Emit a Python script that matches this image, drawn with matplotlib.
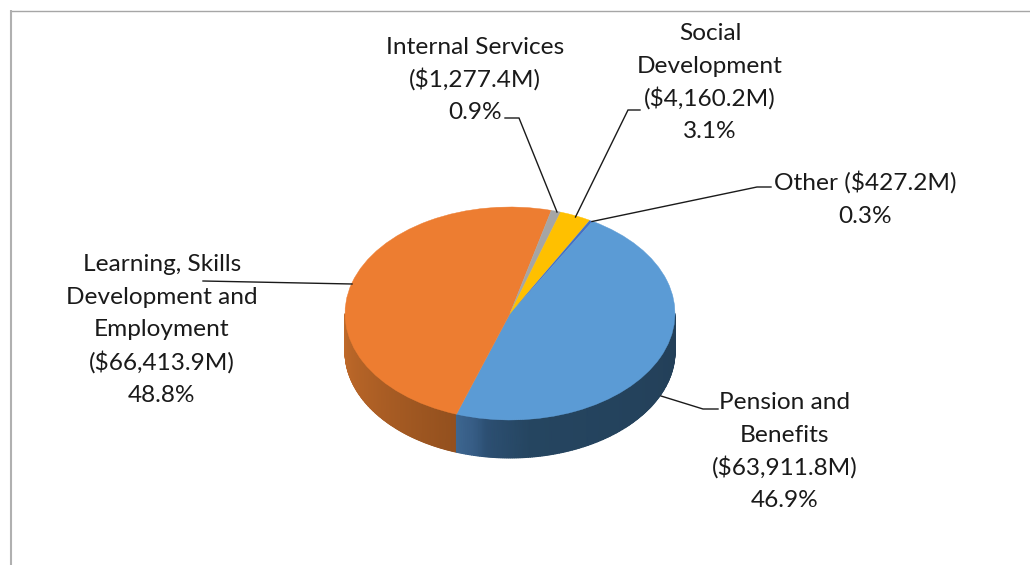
import numpy as np
import matplotlib
matplotlib.use("Agg")
import matplotlib.pyplot as plt
from matplotlib.colors import LinearSegmentedColormap

# Spending by program area, in millions of dollars, clockwise from the top right
categories = ["Pension and\nBenefits", "Learning, Skills\nDevelopment and\nEmployment",
              "Internal Services", "Social\nDevelopment", "Other"]
amounts = [63911.8, 66413.9, 1277.4, 4160.2, 427.2]
amount_labels = ["($63,911.8M)", "($66,413.9M)", "($1,277.4M)", "($4,160.2M)", "($427.2M)"]
share_labels = ["46.9%", "48.8%", "0.9%", "3.1%", "0.3%"]
slice_colors = ["#5B9BD5", "#ED7D31", "#A5A5A5", "#FFC000", "#4472C4"]

W, H = 1030, 565
plt.rcParams["font.family"] = ["Lato", "DejaVu Sans"]
fig = plt.figure(figsize=(W / 100, H / 100), dpi=100, facecolor="white")

# Pixel-coordinate layer for the frame, labels and leader lines
page = fig.add_axes([0, 0, 1, 1], zorder=1)
page.set_xlim(0, W)
page.set_ylim(H, 0)
page.axis("off")
page.patch.set_alpha(0)

# The pie axes span the elliptical top face of the disc
cx, cy, rx, ry, depth = 510, 313.5, 165, 106.5, 38
pie_ax = fig.add_axes([(cx - rx) / W, 1 - (cy + ry) / H, 2 * rx / W, 2 * ry / H], zorder=0)
wedges, _ = pie_ax.pie(amounts, colors=slice_colors, startangle=60, counterclock=False,
                       radius=1, center=(0, 0),
                       wedgeprops=dict(linewidth=0.3, zorder=3))
for w, c in zip(wedges, slice_colors):
    w.set_edgecolor(c)
wedges[-1].set_linewidth(0)
pie_ax.set_aspect("auto")
pie_ax.set_xlim(-1, 1)
pie_ax.set_ylim(-1, 1)
pie_ax.axis("off")

# Visible side wall of the disc: the lower rim swept down by the disc depth
fractions = np.array(amounts) / np.sum(amounts)
seam = 360 + 60 - 360 * fractions[0]
wall_depth = depth / ry
wall_segments = [
    (180, seam, [(0.0, "#C26B2A"), (0.5, "#AD5F25"), (1.0, "#93501E")]),
    (seam, 360, [(0.0, "#3D6690"), (0.06, "#365C84"), (0.10, "#2C4F72"),
                 (0.24, "#254560"), (1.0, "#233F58")]),
]
for start, stop, stops in wall_segments:
    t = np.radians(np.linspace(start, stop, 160))
    x = np.vstack([np.cos(t), np.cos(t)])
    y = np.vstack([np.sin(t), np.sin(t) - wall_depth])
    shade = np.vstack([np.linspace(0, 1, t.size)] * 2)
    cmap = LinearSegmentedColormap.from_list("wall", stops)
    mesh = pie_ax.pcolormesh(x, y, shade, cmap=cmap, vmin=0, vmax=1,
                             shading="gouraud", zorder=1)
    mesh.set_clip_on(False)

# Chart frame: only the top and left edges are visible
page.plot([10, W], [10.5, 10.5], color="#A6A6A6", lw=1.0, solid_capstyle="butt")
page.plot([11, 11], [10, H], color="#B0B0B0", lw=1.5, solid_capstyle="butt")

# Leader lines
leaders = [
    [(718, 409), (703, 409), (661, 396)],
    [(203, 281), (352, 284)],
    [(505, 118), (519, 118), (557, 212)],
    [(640, 110), (628, 110), (575.5, 217)],
    [(771, 187), (757, 187), (592, 221.5)],
]
for pts in leaders:
    xs, ys = zip(*pts)
    page.plot(xs, ys, color="#1A1A1A", lw=1.0, solid_joinstyle="miter")

# Data labels: each line is set on its own baseline for an even line pitch
label_x = [785, 162, 475, 710, 865]
label_first_baseline = [409, 271, 54, 40, 190]
line_pitch = 32.7
for name, amt, share, lx, base in zip(categories, amount_labels, share_labels,
                                       label_x, label_first_baseline):
    if name == "Other":
        lines = [f"{name} {amt}", share]
    else:
        lines = name.split("\n") + [amt, share]
    for i, line in enumerate(lines):
        page.text(lx, base + i * line_pitch, line, ha="center", va="baseline",
                  fontsize=17.6, color="#1A1A1A")

fig.savefig("out.png", dpi=100, facecolor="white")
